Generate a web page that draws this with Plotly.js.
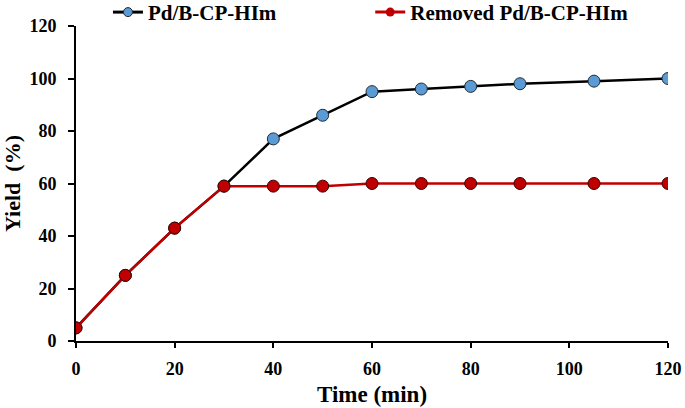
<!DOCTYPE html>
<html><head><meta charset="utf-8">
<script src="https://cdn.plot.ly/plotly-3.0.1.min.js"></script>
<style>body{margin:0;padding:0;background:#fff}#c{width:685px;height:408px}</style>
</head><body><div id="c"></div>
<script>
const timeMin = [0, 10, 20, 30, 40, 50, 60, 70, 80, 90, 105, 120];
const yieldPd = [5, 25, 43, 59, 77, 86, 95, 96, 97, 98, 99, 100];
const yieldRemoved = [5, 25, 43, 59, 59, 59, 60, 60, 60, 60, 60, 60];
const seriesNames = ["Pd/B-CP-HIm", "Removed Pd/B-CP-HIm"];
const tickVals = [0, 20, 40, 60, 80, 100, 120];

const ff = "Liberation Serif, Times New Roman, serif";
const legFont = {family: ff, size: 21, color: "#000", weight: "bold"};
const tickFont = {family: ff, size: 18, color: "#000", weight: "bold"};
const titleFont = {family: ff, size: 23, color: "#000", weight: "bold"};
const blueMarker = {color: "#5b9bd5", line: {color: "#1f2a33", width: 1}};
const redMarker = {color: "#c00000", line: {color: "#3a0000", width: 1}};

const traces = [
  {x: timeMin, y: yieldPd, name: seriesNames[0], mode: "lines+markers", showlegend: false,
   line: {color: "#000", width: 2.5}, marker: Object.assign({size: 12}, blueMarker)},
  {x: timeMin, y: yieldRemoved, name: seriesNames[1], mode: "lines+markers", showlegend: false,
   line: {color: "#c00000", width: 2.5}, marker: Object.assign({size: 12}, redMarker)},
  // legend-only entries (smaller legend symbols, as in the reference)
  {x: [null], y: [null], name: seriesNames[0], mode: "lines+markers", legend: "legend",
   line: {color: "#000", width: 3}, marker: Object.assign({size: 9}, blueMarker)},
  {x: [null], y: [null], name: seriesNames[1], mode: "lines+markers", legend: "legend2",
   line: {color: "#c00000", width: 3}, marker: {size: 9, color: "#c00000", line: {width: 0}}}
];
const layout = {
  width: 685, height: 408,
  margin: {l: 76, r: 17, t: 26, b: 67, autoexpand: false},
  paper_bgcolor: "#fff", plot_bgcolor: "#fff",
  font: {family: ff, color: "#000"},
  showlegend: true,
  legend: {orientation: "h", x: 0.054, y: 1.043, xanchor: "left", yanchor: "middle",
           font: legFont, itemwidth: 30, bgcolor: "rgba(0,0,0,0)"},
  legend2: {orientation: "h", x: 0.497, y: 1.043, xanchor: "left", yanchor: "middle",
           font: legFont, itemwidth: 30, bgcolor: "rgba(0,0,0,0)"},
  xaxis: {range: [0, 120], tickvals: tickVals, showgrid: false, zeroline: false,
          showline: true, linecolor: "#000", linewidth: 2,
          ticks: "outside", ticklen: 5, tickwidth: 2, tickcolor: "#000",
          ticklabelstandoff: 5, tickfont: tickFont,
          title: {text: "Time (min)", font: titleFont, standoff: 8}},
  yaxis: {range: [0, 120], tickvals: tickVals, showgrid: false, zeroline: false,
          showline: true, linecolor: "#000", linewidth: 2,
          ticks: "outside", ticklen: 6, tickwidth: 2, tickcolor: "#000",
          ticklabelstandoff: 8, tickfont: tickFont,
          title: {text: "Yield  (%)", font: Object.assign({}, titleFont, {size: 22}), standoff: 7}}
};
Plotly.newPlot("c", traces, layout, {displayModeBar: false, staticPlot: true});
</script></body></html>
